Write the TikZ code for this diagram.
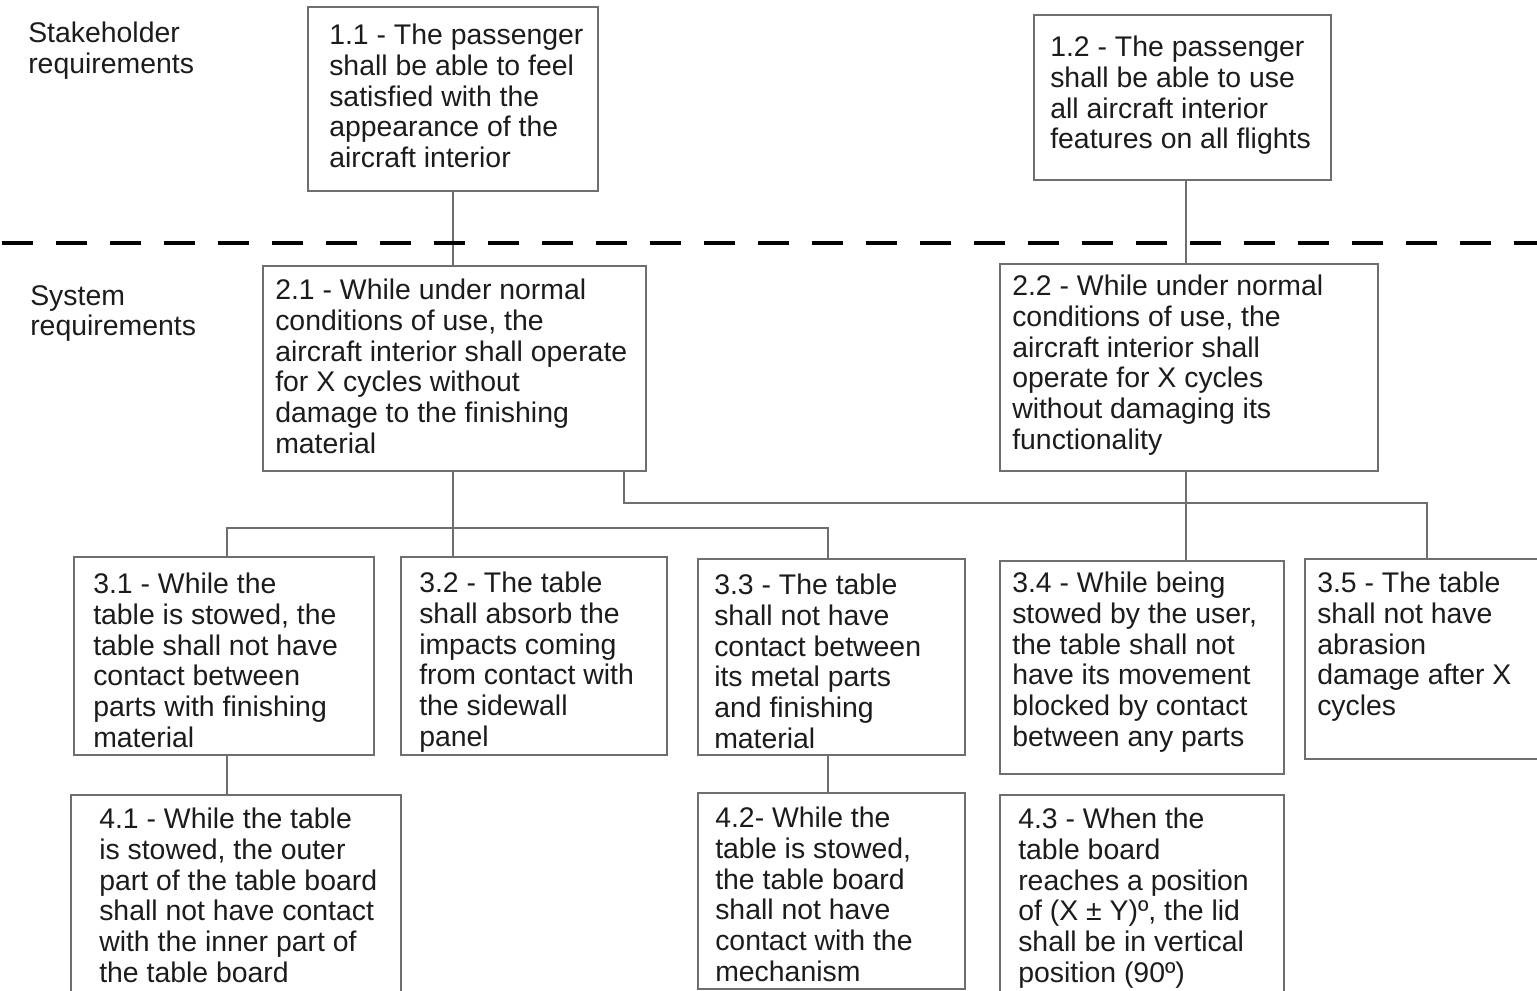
\documentclass[tikz,border=0pt]{standalone}
\usepackage{fontspec}
\usetikzlibrary{fit}
\newfontfamily\reqfontfam{Liberation Sans}
\newcommand\reqfont{\reqfontfam\fontsize{21.3}{23.0}\selectfont}
\definecolor{boxgray}{HTML}{6E6E6E}
\definecolor{txtcol}{HTML}{1C1C1C}
\tikzset{
  boxst/.style={draw=boxgray, line width=1.5pt, inner sep=0pt, fill=white},
  txt/.style={anchor=north west, inner sep=0pt, align=left, text=txtcol, font=\reqfont},
  link/.style={draw=boxgray, line width=1.5pt},
  dashline/.style={draw=black, line width=3pt, dash pattern=on 23.25pt off 17.25pt},
}
\begin{document}
\begin{tikzpicture}[x=0.75pt,y=-0.75pt]
\clip (0,0) rectangle (1537,991);
\fill[white] (0,0) rectangle (1537,991);

% boxes
\node[boxst, fit={(308,7) (598,191)}] (b11) {};
\node[boxst, fit={(1034,15) (1331,180)}] (b12) {};
\node[boxst, fit={(263,266) (646,471)}] (b21) {};
\node[boxst, fit={(1000,264) (1378,471)}] (b22) {};
\node[boxst, fit={(74,557) (374,755)}] (b31) {};
\node[boxst, fit={(401,557) (667,755)}] (b32) {};
\node[boxst, fit={(698,559) (965,755)}] (b33) {};
\node[boxst, fit={(1000,561) (1284,774)}] (b34) {};
\node[boxst, fit={(1305,559) (1560,759)}] (b35) {};
\node[boxst, fit={(71,795) (401,1010)}] (b41) {};
\node[boxst, fit={(698,793) (965,989)}] (b42) {};
\node[boxst, fit={(1000,795) (1284,1010)}] (b43) {};

% junction coordinates
\coordinate (v1) at (453,0);
\coordinate (v2) at (1186,0);
\coordinate (j31) at (227,528);
\coordinate (j32) at (453,528);
\coordinate (j33) at (828,528);
\coordinate (k1) at (624,503);
\coordinate (k2) at (1427,503);

% connectors
\draw[link] (b11.south -| v1) -- (b21.north -| v1);
\draw[link] (b12.south -| v2) -- (b22.north -| v2);
\draw[link] (b21.south -| j32) -- (b32.north -| j32);
\draw[link] (b31.north -| j31) -- (j31) -- (j33) -- (b33.north -| j33);
\draw[link] (b21.south -| k1) -- (k1) -- (k2) -- (b35.north -| k2);
\draw[link] (b22.south -| v2) -- (b34.north -| v2);
\draw[link] (b31.south -| j31) -- (b41.north -| j31);
\draw[link] (b33.south -| j33) -- (b42.north -| j33);

% dashed separator
\coordinate (dl) at (2,243);
\coordinate (dr) at (1537,243);
\draw[dashline] (dl) -- (dr);

% texts
\node[txt] (tstake) at (28,22) {Stakeholder\\requirements};
\node[txt] (tsys) at (30,285) {System\\requirements};

\node[txt] (t11) at (329,24) {1.1 - The passenger\\shall be able to feel\\satisfied with the\\appearance of the\\aircraft interior};
\node[txt] (t12) at (1050,36) {1.2 - The passenger\\shall be able to use\\all aircraft interior\\features on all flights};
\node[txt] (t21) at (275,279) {2.1 - While under normal\\conditions of use, the\\aircraft interior shall operate\\for X cycles without\\damage to the finishing\\material};
\node[txt] (t22) at (1012,275) {2.2 - While under normal\\conditions of use, the\\aircraft interior shall\\operate for X cycles\\without damaging its\\functionality};
\node[txt] (t31) at (93,573) {3.1 - While the\\table is stowed, the\\table shall not have\\contact between\\parts with finishing\\material};
\node[txt] (t32) at (419,572) {3.2 - The table\\shall absorb the\\impacts coming\\from contact with\\the sidewall\\panel};
\node[txt] (t33) at (714,574) {3.3 - The table\\shall not have\\contact between\\its metal parts\\and finishing\\material};
\node[txt] (t34) at (1012,572) {3.4 - While being\\stowed by the user,\\the table shall not\\have its movement\\blocked by contact\\between any parts};
\node[txt] (t35) at (1317,572) {3.5 - The table\\shall not have\\abrasion\\damage after X\\cycles};
\node[txt] (t41) at (99,808) {4.1 - While the table\\is stowed, the outer\\part of the table board\\shall not have contact\\with the inner part of\\the table board};
\node[txt] (t42) at (715,807) {4.2- While the\\table is stowed,\\the table board\\shall not have\\contact with the\\mechanism};
\node[txt] (t43) at (1018,808) {4.3 - When the\\table board\\reaches a position\\of (X ± Y)º, the lid\\shall be in vertical\\position (90º)};
\end{tikzpicture}
\end{document}
